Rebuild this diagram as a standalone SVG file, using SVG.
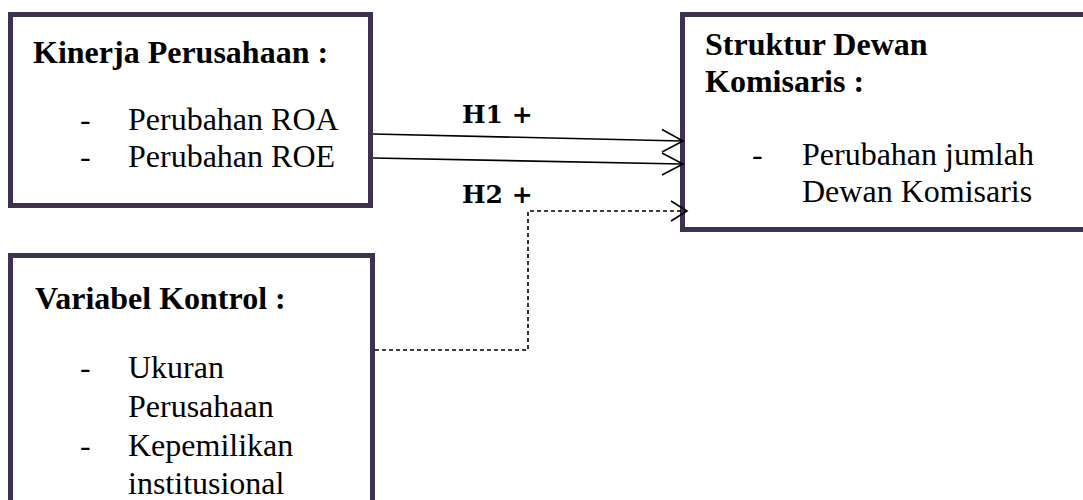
<svg xmlns="http://www.w3.org/2000/svg" width="1083" height="500" viewBox="0 0 1083 500">
<style>
.box{fill:#fff;stroke:#3f3151;stroke-width:5}
.t{font-family:"Liberation Serif","Times New Roman",serif;font-size:32px;fill:#000}
.b{font-weight:bold}
.h{font-family:"DejaVu Serif",serif;font-weight:bold;font-size:25px;fill:#000}
.ln{fill:none;stroke:#000;stroke-width:1.6}
.ds{fill:none;stroke:#000;stroke-width:1.6;stroke-dasharray:4 3}
</style>
<rect width="1083" height="500" fill="#fff"/>
<g id="kinerja">
<rect class="box" x="10.5" y="14.5" width="360" height="191"/>
<text class="t b" x="33" y="63">Kinerja Perusahaan :</text>
<text class="t" x="80" y="130">-</text>
<text class="t" x="128" y="130">Perubahan ROA</text>
<text class="t" x="80" y="167">-</text>
<text class="t" x="128" y="167">Perubahan ROE</text>
</g>
<g id="struktur">
<rect class="box" x="682.5" y="14.5" width="410" height="215"/>
<text class="t b" x="705" y="55">Struktur Dewan</text>
<text class="t b" x="705" y="92">Komisaris :</text>
<text class="t" x="752" y="165">-</text>
<text class="t" x="802" y="165">Perubahan jumlah</text>
<text class="t" x="802" y="202">Dewan Komisaris</text>
</g>
<g id="kontrol">
<rect class="box" x="10.5" y="255.5" width="362" height="260"/>
<text class="t b" x="35" y="309">Variabel Kontrol :</text>
<text class="t" x="80" y="378">-</text>
<text class="t" x="128" y="378">Ukuran</text>
<text class="t" x="128" y="417">Perusahaan</text>
<text class="t" x="80" y="456">-</text>
<text class="t" x="128" y="456">Kepemilikan</text>
<text class="t" x="128" y="494">institusional</text>
</g>
<g id="connectors">
<path class="ln" d="M373 134 L682 141"/>
<path class="ln" d="M662 129.5 L683 141 L662 152"/>
<path class="ln" d="M373 158 L682 164"/>
<path class="ln" d="M662 153 L683 164 L662 175"/>
<path class="ds" d="M375 350 L528 350 L528 211 L685 211"/>
<path class="ln" d="M671 201 L687 211 L671 221"/>
<text class="h" x="462" y="123">H1 +</text>
<text class="h" x="462" y="203">H2 +</text>
</g>
</svg>
